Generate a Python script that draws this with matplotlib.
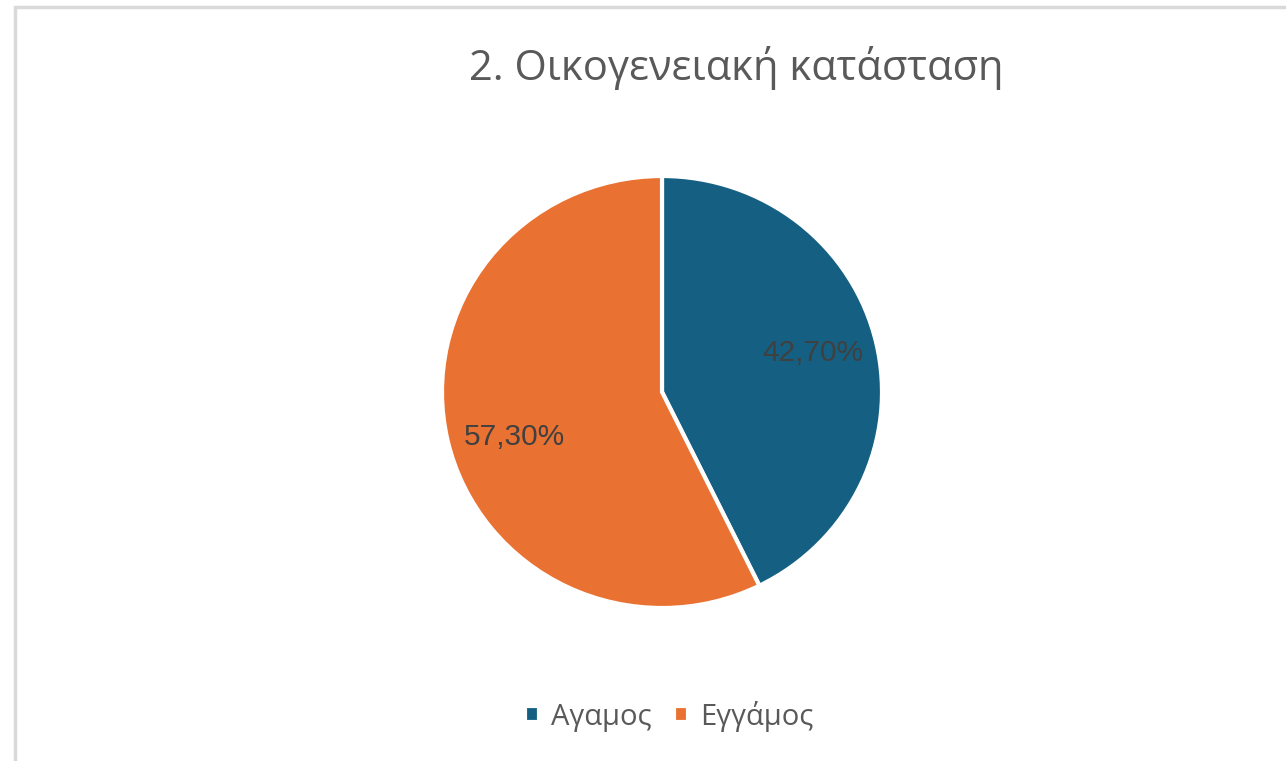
'''Pie chart of marital status (Οικογενειακή κατάσταση).'''

# ----------------------------------------------------------------------------
# Modules
from matplotlib import pyplot as plt
from matplotlib.patches import Rectangle
import numpy as np

# ----------------------------------------------------------------------------
# Data

categories = ['Αγαμος', 'Εγγάμος']
shares = [42.70, 57.30]
colors = ['#156082', '#E97132']
title = '2. Οικογενειακή κατάσταση'

# ----------------------------------------------------------------------------


def marital_status_pie_plot():
    """Plots the marital status pie chart and saves it to out.png."""

    width, height = 1286, 761
    figure = plt.figure(figsize=(width / 100, height / 100), dpi=100)
    figure.patch.set_facecolor('white')

    # Light grey frame of the chart area
    figure.patches.append(Rectangle(
        (15 / width, -0.05), 1.1, 1 - 7 / height + 0.05,
        transform=figure.transFigure, facecolor='none',
        edgecolor='#d9d9d9', linewidth=2.5))

    # Pie centred at (662, 392) px
    cx, cy, rx, ry = 662, 392, 220, 216
    ax = figure.add_axes([(cx - rx) / width, (height - cy - ry) / height,
                          2 * rx / width, 2 * ry / height])
    wedges, _, autotexts = ax.pie(
        shares, colors=colors, startangle=90, counterclock=False,
        autopct=lambda p: f'{p:.2f}%'.replace('.', ','),
        pctdistance=0.7, radius=1,
        wedgeprops=dict(edgecolor='white', linewidth=3))

    # Labels placed a little off the wedge centre line, best-fit style
    nudges = [(1.5, 0.71), (4.0, 0.70)]
    for wedge, text, (dtheta, dist) in zip(wedges, autotexts, nudges):
        theta = np.deg2rad((wedge.theta1 + wedge.theta2) / 2 + dtheta)
        text.set_position((dist * np.cos(theta), dist * np.sin(theta)))
        text.set_fontfamily('Liberation Sans')
        text.set_fontsize(21.5)
        text.set_color('#404040')
    ax.set_xlim(-1, 1)
    ax.set_ylim(-1, 1)
    ax.set_aspect('auto')

    figure.text(736 / width, 1 - 68 / height, title, ha='center',
                va='center', fontsize=30, color='#595959',
                family='Open Sans')

    figure.legend(wedges, categories, loc='center',
                  bbox_to_anchor=(669 / width, 1 - 716 / height),
                  ncol=2, frameon=False, handlelength=0.5,
                  handleheight=0.5, handletextpad=0.4, columnspacing=0.75,
                  prop={'family': 'Open Sans', 'size': 21},
                  labelcolor='#595959')

    plt.savefig('out.png', dpi=100)

    return None

# ----------------------------------------------------------------------------


def main():
    """The main function of the script."""

    marital_status_pie_plot()

    return None

# ----------------------------------------------------------------------------


if __name__ == '__main__':
    main()
